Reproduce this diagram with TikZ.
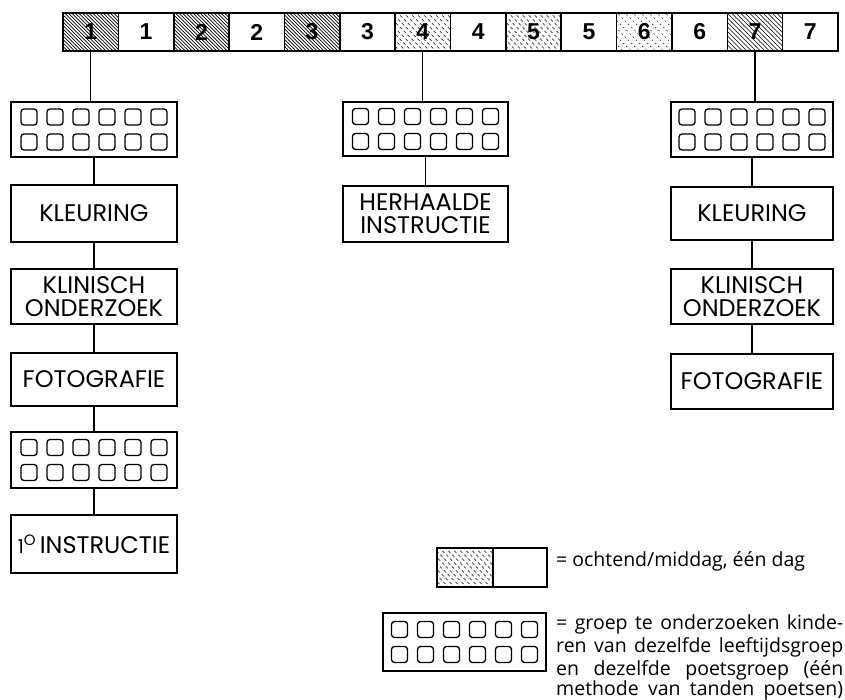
\documentclass[tikz,border=0pt]{standalone}
\usepackage{fontspec}
\setmainfont{Poppins}
\newfontfamily\numfont{Liberation Sans}
\newfontfamily\legfont{Open Sans}
\begin{document}
\begin{tikzpicture}[x=1pt,y=-1pt,
  box/.style={draw, line width=1.6pt, align=center, inner sep=0pt, font=\fontsize{24}{23}\selectfont},
  grid/.style={draw, line width=1.6pt, inner sep=0pt},
  cell/.style={draw, line width=1.6pt, minimum width=55.36pt, minimum height=38pt, inner sep=0pt, font=\numfont\bfseries\fontsize{23}{23}\selectfont},
  conn/.style={line width=1.2pt},
  sq/.style={line width=1.3pt, rounded corners=3pt},
  hatch/.style 2 args={path picture={\foreach \k in {-16,...,16}{\draw[#2] ([xshift={\k*#1pt}]path picture bounding box.center) ++(-40pt,40pt) -- ++(80pt,-80pt);}}},
  hdense/.style={hatch={3.5}{line width=0.7pt}},
  hmed/.style={hatch={4.5}{line width=0.6pt}},
  hsparse/.style={hatch={6}{line width=0.5pt, dash pattern=on 3pt off 2.5pt}},
  hvsparse/.style={hatch={8}{line width=0.45pt, dash pattern=on 1.5pt off 3pt}}
]
\useasboundingbox (0,0) rectangle (845,699);

\newcommand\kidgroup[5]{%
  \node[grid, minimum width=#4pt, minimum height=#5pt] (#1) at (#2,#3) {};
  \foreach \dx in {-65,-39,-13,13,39,65}{\foreach \dy in {12.5,-12.5}{%
    \draw[sq] ([xshift=\dx pt, yshift=\dy pt]#1.center) ++(-8pt,-8pt) rectangle ++(16pt,16pt);}}}

% top bar
\node[cell, hdense]   (c1)  at (90.68,32)  {1};
\node[cell]           (c2)  at (146.04,32) {1};
\node[cell, hdense]   (c3)  at (201.40,32) {2};
\node[cell]           (c4)  at (256.76,32) {2};
\node[cell, hdense]   (c5)  at (312.12,32) {3};
\node[cell]           (c6)  at (367.48,32) {3};
\node[cell, hsparse]  (c7)  at (422.84,32) {4};
\node[cell]           (c8)  at (478.20,32) {4};
\node[cell, hsparse]  (c9)  at (533.56,32) {5};
\node[cell]           (c10) at (588.92,32) {5};
\node[cell, hvsparse] (c11) at (644.28,32) {6};
\node[cell]           (c12) at (699.64,32) {6};
\node[cell, hmed]     (c13) at (755.00,32) {7};
\node[cell]           (c14) at (810.36,32) {7};

% left column
\kidgroup{g1}{94}{129.5}{166}{55}
\node[box, minimum width=166pt, minimum height=57pt] (k1)  at (94,213.5) {KLEURING};
\node[box, minimum width=166pt, minimum height=55pt] (kl1) at (94,296.5) {KLINISCH\\ONDERZOEK};
\node[box, minimum width=166pt, minimum height=53pt] (f1)  at (94,379.5) {FOTOGRAFIE};
\kidgroup{g2}{94}{460}{166}{56}
\node[box, minimum width=166pt, minimum height=58pt] (i1)  at (94,544) {{\fontsize{19}{19}\selectfont 1}\raisebox{8pt}{\fontsize{15}{15}\selectfont O}\,INSTRUCTIE};

% middle column
\kidgroup{g3}{425.5}{129}{165}{54}
\node[box, minimum width=165pt, minimum height=56pt] (h1) at (425.5,214) {HERHAALDE\\INSTRUCTIE};

% right column
\kidgroup{g4}{752}{129.5}{162}{55}
\node[box, minimum width=162pt, minimum height=53pt] (k2)  at (752,213.5) {KLEURING};
\node[box, minimum width=162pt, minimum height=55pt] (kl2) at (752,296.5) {KLINISCH\\ONDERZOEK};
\node[box, minimum width=162pt, minimum height=55pt] (f2)  at (752,381.5) {FOTOGRAFIE};

% connectors
\draw[conn] (c1.south) -- (c1.south |- g1.north);
\draw[conn] (g1) -- (k1);
\draw[conn] (k1) -- (kl1);
\draw[conn] (kl1) -- (f1);
\draw[conn] (f1) -- (g2);
\draw[conn] (g2) -- (i1);
\draw[conn] (c7.south) -- (c7.south |- g3.north);
\draw[conn] (g3) -- (h1);
\draw[conn] (c13.south) -- (c13.south |- g4.north);
\draw[conn] (g4) -- (k2);
\draw[conn] (k2) -- (kl2);
\draw[conn] (kl2) -- (f2);

% legend
\node[cell, hsparse, minimum width=56pt, minimum height=39pt] (ld1) at (465,567.5) {};
\node[cell, minimum width=54pt, minimum height=39pt] (ld2) at (520,567.5) {};
\kidgroup{lg}{464.5}{642}{163}{58}
\begin{scope}[every node/.style={anchor=base west, inner sep=0pt, font=\legfont\fontsize{19.5}{21}\selectfont}]
\node (t0) at (556,566) {= ochtend/middag, één dag};
\node (t1) at (556,629) {\makebox[287pt][s]{= groep te onderzoeken kinde-}};
\node (t2) at (556,652) {\makebox[287pt][s]{ren van dezelfde leeftijdsgroep}};
\node (t3) at (556,675) {\makebox[287pt][s]{en dezelfde poetsgroep (één}};
\node (t4) at (556,695) {\makebox[287pt][s]{methode van tanden poetsen)}};
\end{scope}
\end{tikzpicture}
\end{document}
